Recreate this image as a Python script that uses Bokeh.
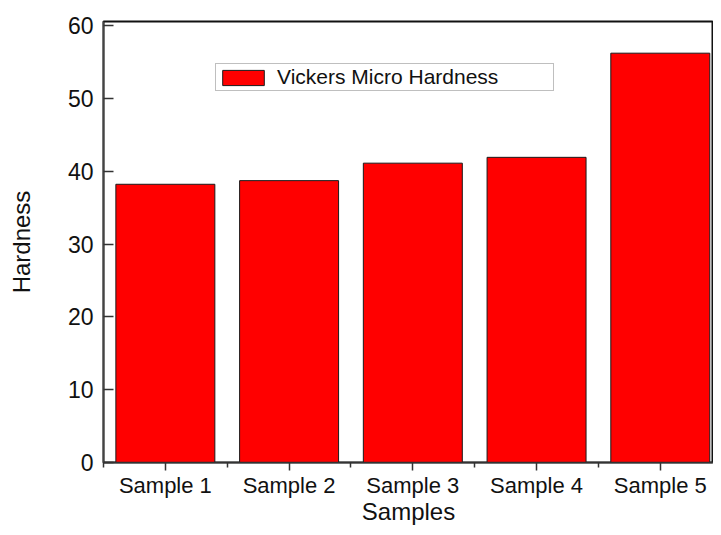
from bokeh.plotting import figure
from bokeh.models import ColumnDataSource, Range1d, FixedTicker, Legend
from bokeh.embed import file_html
from bokeh.resources import INLINE

categories = ["Sample 1", "Sample 2", "Sample 3", "Sample 4", "Sample 5"]
hardness = [38.2, 38.7, 41.1, 41.9, 56.2]
y_ticks = [0, 10, 20, 30, 40, 50, 60]
series_name = "Vickers Micro Hardness"

positions = [i + 1 for i in range(len(categories))]
source = ColumnDataSource(data=dict(x=positions, hardness=hardness, cat=categories))

FONT = "Liberation Sans"

p = figure(width=713, height=527, output_backend="svg", toolbar_location=None,
           x_range=Range1d(0.5, 5.43), y_range=Range1d(0, 60.55),
           min_border_left=103, min_border_top=21, min_border_right=0, min_border_bottom=65)

r = p.vbar(x="x", top="hardness", width=0.8, source=source,
           fill_color="#ff0000", line_color="#1a1a1a", line_width=1)

p.xgrid.visible = False
p.ygrid.visible = False
p.background_fill_color = "white"
p.border_fill_color = "white"
p.outline_line_color = "#111111"
p.outline_line_width = 2

# x axis
xa = p.xaxis[0]
xa.ticker = FixedTicker(ticks=positions,
                        minor_ticks=[x - 0.5 for x in positions] + [positions[-1] + 0.5])
xa.major_label_overrides = {x: c for x, c in zip(positions, categories)}
xa.major_tick_out = 8
xa.major_tick_in = 0
xa.minor_tick_out = 5
xa.minor_tick_in = 0
xa.axis_line_color = "#333333"
xa.axis_line_width = 1.5
xa.major_tick_line_color = "#333333"
xa.major_tick_line_width = 1.5
xa.minor_tick_line_color = "#333333"
xa.minor_tick_line_width = 1.5
xa.major_label_text_font = FONT
xa.major_label_text_font_size = "22px"
xa.major_label_text_color = "#111111"
xa.major_label_standoff = 2
xa.axis_label = "Samples"
xa.axis_label_text_font = FONT
xa.axis_label_text_font_size = "24px"
xa.axis_label_text_font_style = "normal"
xa.axis_label_text_color = "#111111"
xa.axis_label_standoff = -3

# y axis
ya = p.yaxis[0]
ya.ticker = FixedTicker(ticks=y_ticks, minor_ticks=[])
ya.major_tick_in = 10
ya.major_tick_out = 0
ya.minor_tick_in = 0
ya.minor_tick_out = 0
ya.axis_line_color = "#444444"
ya.axis_line_width = 1.5
ya.major_tick_line_color = "#333333"
ya.major_tick_line_width = 1.5
ya.major_label_text_font = FONT
ya.major_label_text_font_size = "23px"
ya.major_label_text_color = "#111111"
ya.major_label_standoff = 10
ya.axis_label = "Hardness"
ya.axis_label_text_font = FONT
ya.axis_label_text_font_size = "24px"
ya.axis_label_text_font_style = "normal"
ya.axis_label_text_color = "#111111"
ya.axis_label_standoff = 30

legend = Legend(items=[(series_name, [r])], location=(112, 371),
                padding=1, margin=0, spacing=0,
                glyph_width=52, glyph_height=19,
                label_standoff=8, label_width=275, label_height=19,
                label_text_font=FONT, label_text_font_size="21px",
                label_text_color="#111111",
                border_line_color="#808080", border_line_width=1.5,
                background_fill_color="white", background_fill_alpha=1)
p.add_layout(legend)

open("out.html", "w").write(file_html(p, INLINE))
